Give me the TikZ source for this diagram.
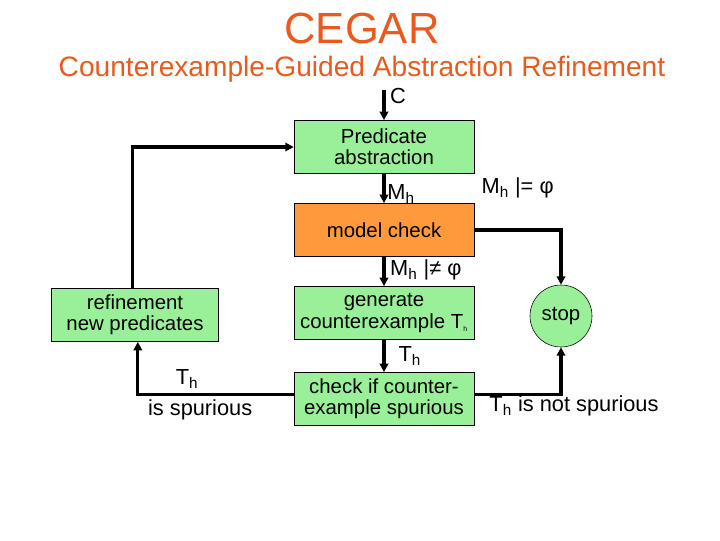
\documentclass[tikz,border=0pt]{standalone}
\usepackage{fontspec}
\setmainfont{Liberation Sans}
\usetikzlibrary{positioning,arrows.meta}
\definecolor{boxgreen}{HTML}{99F099}
\definecolor{boxorange}{HTML}{FF9A3C}
\definecolor{titleorange}{HTML}{E85A1E}
\tikzset{
  stage/.style={draw, rectangle, fill=boxgreen, minimum width=4.5cm, minimum height=1.33cm, align=center, font=\fontsize{14.5}{15}\selectfont, inner sep=1pt},
  flow/.style={-{Triangle[length=6pt,width=6pt]}, line width=2.2pt},
  lbl/.style={font=\fontsize{15.5}{16}\selectfont}
}
\begin{document}
\begin{tikzpicture}[x=0.025cm, y=-0.025cm]
    \useasboundingbox (0,0) rectangle (720,540);
    \node[text=titleorange, font=\fontsize{31}{32}\selectfont] (title) at (362,28) {CEGAR};
    \node[text=titleorange, font=\fontsize{20}{21}\selectfont] (subtitle) at (362,69) {Counterexample-Guided Abstraction Refinement};
    
    \node[stage] (predabs) at (384,147) {Predicate\\abstraction};
    \node[stage, fill=boxorange] (modelcheck) at (384,230) {model check};
    \node[stage] (generate) at (384,313) {generate\\counterexample T\textsubscript{\tiny h}};
    \node[stage] (spurcheck) at (384,399) {check if counter-\\example spurious};
    \node[stage, minimum width=4.18cm] (refine) at (135,315) {refinement\\new predicates};
    \node[draw, circle, fill=boxgreen, minimum size=1.55cm, inner sep=0pt, font=\fontsize{14.5}{15}\selectfont] (stop) at (561,316) {stop};
    \coordinate (cin) at (384,90);
    
    \draw[flow] (cin) -- (predabs) node[lbl, pos=0.2, right] {C};
    \draw[flow] (predabs) -- (modelcheck) node[lbl, pos=0.7, right=-2pt] {M\textsubscript{h}};
    \draw[flow] (modelcheck) -- (generate) node[lbl, pos=0.45, right] {M\textsubscript{h} |≠ φ};
    \draw[flow] (modelcheck.east) -| (stop.north) node[lbl, pos=0.25, above=18pt] {M\textsubscript{h} |= φ};
    \draw[flow] (generate) -- (spurcheck) node[lbl, midway, right=6pt] {T\textsubscript{h}};
    \draw[flow] ([yshift=3pt]spurcheck.east) -| (stop.south) node[lbl, pos=0.1, below right=-4pt and -6pt] {T\textsubscript{h} is not spurious};
    \draw[flow] ([yshift=3pt]spurcheck.west) -| ([xshift=2pt]refine.south) node[lbl, pos=0.3, align=center] {\hspace*{-1.2em}T\textsubscript{h}\\[6pt]is spurious};
    \draw[flow] ([xshift=-2pt]refine.north) |- (predabs.west);
\end{tikzpicture}
\end{document}
